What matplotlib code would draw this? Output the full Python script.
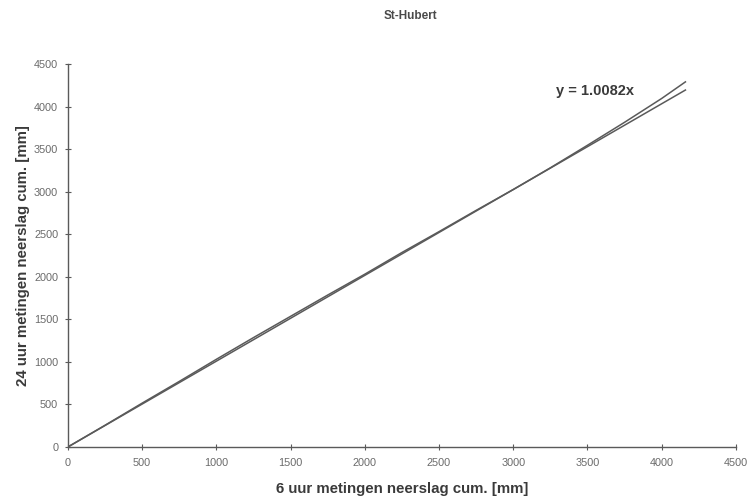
import matplotlib
matplotlib.use("Agg")
import matplotlib.pyplot as plt
import numpy as np

plt.rcParams["font.family"] = ["Liberation Sans", "DejaVu Sans"]

# ── Data ─────────────────────────────────────────────────────────
cum_6h = [0, 250, 500, 750, 1000, 1250, 1500, 1750, 2000, 2250, 2500,
          2750, 3000, 3250, 3500, 3750, 4000, 4160]
cum_24h = [0, 255, 515, 770, 1030, 1285, 1535, 1785, 2030, 2285, 2530,
           2780, 3025, 3280, 3545, 3815, 4095, 4290]
slope = 1.0082

GREY = "#5a5a5a"
TXT = "#3a3a3a"

fig = plt.figure(figsize=(7.54, 5.0), dpi=100)
ax = fig.add_axes([0.090, 0.106, 0.886, 0.766])

ax.plot(cum_6h, cum_24h, color=GREY, lw=1.1)
xfit = np.array([0, cum_6h[-1]])
ax.plot(xfit, slope * xfit, color=GREY, lw=1.1)

ax.set_xlim(0, 4500)
ax.set_ylim(0, 4500)
ax.set_xticks(range(0, 4501, 500))
ax.set_yticks(range(0, 4501, 500))

for s in ["top", "right"]:
    ax.spines[s].set_visible(False)
for s in ["left", "bottom"]:
    ax.spines[s].set_color(GREY)
    ax.spines[s].set_linewidth(1.0)
ax.tick_params(direction="inout", length=4, width=0.8, colors=GREY,
               labelsize=7.8, labelcolor="#6a6a6a")
ax.tick_params(axis="x", pad=6)
ax.tick_params(axis="y", pad=5)

ax.set_xlabel("6 uur metingen neerslag cum. [mm]", fontsize=10.8,
              fontweight="bold", color=TXT, labelpad=10)
ax.set_ylabel("24 uur metingen neerslag cum. [mm]", fontsize=10.8,
              fontweight="bold", color=TXT, labelpad=3)

fig.text(0.545, 0.968, "St-Hubert", ha="center", va="center",
         fontsize=8.5, fontweight="bold", color="#4a4a4a")
ax.text(3290, 4180, "y = 1.0082x", fontsize=10.5, fontweight="bold",
        color=TXT, ha="left", va="center")

fig.savefig("out.png", dpi=100)
